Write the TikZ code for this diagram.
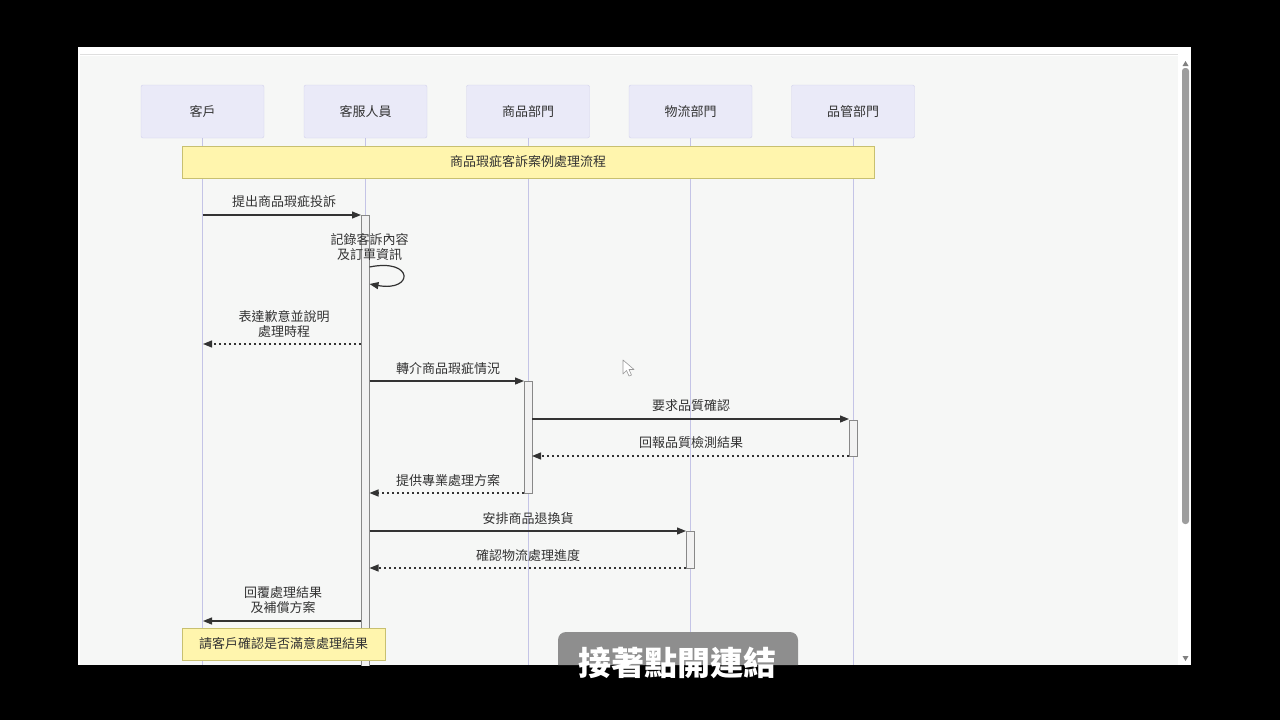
\documentclass[tikz,border=0pt]{standalone}
\usepackage{fontspec}
\newfontfamily\cjk{Noto Sans CJK TC}
\usetikzlibrary{arrows.meta}
\definecolor{txt}{HTML}{333333}
\definecolor{actfill}{HTML}{EAEAF8}
\definecolor{actline}{HTML}{D2D2EC}
\definecolor{lifeline}{HTML}{C4C4E6}
\definecolor{notefill}{HTML}{FFF5AD}
\definecolor{noteline}{HTML}{C8C070}
\definecolor{bgc}{HTML}{F6F7F6}
\definecolor{actvfill}{HTML}{F2F2F2}
\definecolor{actvline}{HTML}{888888}
\definecolor{subbox}{HTML}{8E8E8E}
\tikzset{
  x=1pt,y=-1pt,
  actor/.style={draw=actline,fill=actfill,rounded corners=2pt,minimum width=123pt,minimum height=53pt,font=\cjk\fontsize{13}{15}\selectfont,text=txt,inner sep=0pt},
  note/.style={draw=noteline,fill=notefill,font=\cjk\fontsize{13}{15}\selectfont,text=txt,inner sep=0pt},
  life/.style={draw=lifeline,line width=0.8pt},
  actv/.style={draw=actvline,fill=actvfill,line width=0.8pt},
  msg/.style={draw=txt,line width=1.2pt,-{Triangle[length=9pt,width=7pt]}},
  reply/.style={msg,dash pattern=on 2.5pt off 2.5pt},
  lbl/.style={font=\cjk\fontsize{13}{15}\selectfont,text=txt,align=center,inner sep=0pt}
}
\begin{document}
\begin{tikzpicture}
\useasboundingbox (0,0) rectangle (1280,720);
\fill[black] (0,0) rectangle (1280,720);
% browser panel
\fill[white] (78,47) rectangle (1191,665);
\fill[bgc] (80,56) rectangle (1178,665);
\draw[gray!25,line width=0.8pt] (80,54.5) -- (1178,54.5);
% scrollbar
\fill[gray!90!black!70] (1182,68) [rounded corners=3pt] rectangle (1189,524);
\fill[gray] (1182.5,66) -- (1188.5,66) -- (1185.5,61) -- cycle;
\fill[gray] (1182.5,656) -- (1188.5,656) -- (1185.5,661) -- cycle;

% actors
\node[actor] (a1) at (202.5,111.5) {客戶};
\node[actor] (a2) at (365.5,111.5) {客服人員};
\node[actor] (a3) at (528,111.5) {商品部門};
\node[actor] (a4) at (690.5,111.5) {物流部門};
\node[actor] (a5) at (853,111.5) {品管部門};
% lifeline ends
\coordinate (e1) at (202.5,665);
\coordinate (e2) at (365.5,665);
\coordinate (e3) at (528,665);
\coordinate (e4) at (690.5,665);
\coordinate (e5) at (853,665);
\foreach \i in {1,...,5} \draw[life] (a\i.south) -- (e\i);

% title note
\node[note,minimum width=692pt,minimum height=32pt] (title) at (528,162) {商品瑕疵客訴案例處理流程};

% activations
\begin{scope}
\clip (78,47) rectangle (1191,665);
\draw[actv] (361,215) rectangle (369.5,670);
\end{scope}
\draw[actv] (524,381) rectangle (532,493);
\draw[actv] (849,420) rectangle (857,456);
\draw[actv] (686,531) rectangle (694,568);

% message coordinates
\coordinate (m1a) at (202.5,215); \coordinate (m1b) at (361,215);
\coordinate (s1a) at (369.5,267); \coordinate (s1b) at (369.5,284);
\coordinate (m2a) at (361,344); \coordinate (m2b) at (203,344);
\coordinate (m3a) at (369.5,381); \coordinate (m3b) at (524,381);
\coordinate (m4a) at (532,419); \coordinate (m4b) at (849,419);
\coordinate (m5a) at (849,456); \coordinate (m5b) at (532,456);
\coordinate (m6a) at (524,493); \coordinate (m6b) at (369.5,493);
\coordinate (m7a) at (369.5,531); \coordinate (m7b) at (686,531);
\coordinate (m8a) at (686,568); \coordinate (m8b) at (369.5,568);
\coordinate (m9a) at (361,621); \coordinate (m9b) at (203,621);

\draw[msg] (m1a) -- (m1b);
\node[lbl] (l1) at (284,201.5) {提出商品瑕疵投訴};
\draw[msg] (s1a) .. controls (414,258) and (414,292) .. (s1b);
\node[lbl] (l2) at (369.5,247.5) {記錄客訴內容\\及訂單資訊};
\draw[reply] (m2a) -- (m2b);
\node[lbl] (l3) at (284,324) {表達歉意並說明\\處理時程};
\draw[msg] (m3a) -- (m3b);
\node[lbl] (l4) at (448,368.5) {轉介商品瑕疵情況};
\draw[msg] (m4a) -- (m4b);
\node[lbl] (l5) at (691,405.5) {要求品質確認};
\draw[reply] (m5a) -- (m5b);
\node[lbl] (l6) at (691,442.5) {回報品質檢測結果};
\draw[reply] (m6a) -- (m6b);
\node[lbl] (l7) at (448,480.5) {提供專業處理方案};
\draw[msg] (m7a) -- (m7b);
\node[lbl] (l8) at (528,518.5) {安排商品退換貨};
\draw[reply] (m8a) -- (m8b);
\node[lbl] (l9) at (528,555.5) {確認物流處理進度};
\draw[msg] (m9a) -- (m9b);
\node[lbl] (l10) at (283,600) {回覆處理結果\\及補償方案};

% bottom note
\node[note,minimum width=203pt,minimum height=32pt] (n2) at (283.5,644) {請客戶確認是否滿意處理結果};

% mouse cursor
\draw[gray!80,fill=white,line width=0.6pt,line join=round] (623,360) -- (623,374) -- (626.5,370.5) -- (629,376) -- (631.5,375) -- (629,369.5) -- (634,369.5) -- cycle;

% subtitle
\fill[subbox] (558,665) -- (558,640) [rounded corners=8pt] -- (558,632) -- (798,632) [sharp corners] -- (798,665) -- cycle;
\node[font=\cjk\bfseries\fontsize{33}{36}\selectfont,text=white,inner sep=0pt] (sub) at (677,663) {接著點開連結};
\end{tikzpicture}
\end{document}
